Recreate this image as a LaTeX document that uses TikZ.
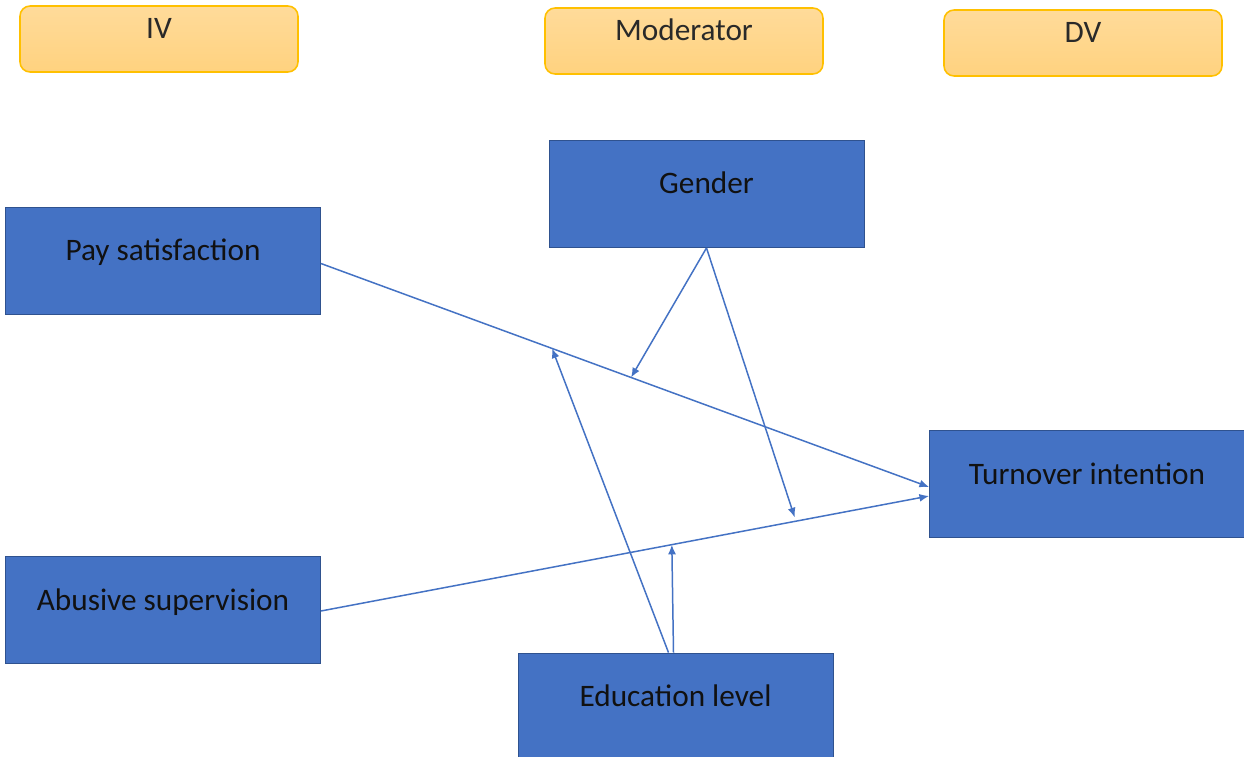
\documentclass[tikz,border=0pt]{standalone}
\usepackage{fontspec}
\setmainfont{Carlito}
\usepackage{tikz}
\usetikzlibrary{arrows.meta, calc}
\definecolor{BoxBlue}{HTML}{4472C4}
\definecolor{EdgeBlue}{HTML}{2F528F}
\definecolor{HeadGold}{HTML}{FFC000}
\definecolor{HeadTop}{HTML}{FFDB9A}
\definecolor{HeadBottom}{HTML}{FFD27F}
\definecolor{InkDark}{HTML}{111111}

\begin{document}
\begin{tikzpicture}[x=0.02cm, y=-0.02cm,
    varbox/.style={draw=EdgeBlue, line width=0.5pt, fill=BoxBlue, text=InkDark, minimum width=6.3cm, minimum height=2.14cm, inner sep=0pt, text height=0.7em, text depth=0.7em, font=\fontsize{17.8}{21}\selectfont},
    headbox/.style={draw=HeadGold, line width=0.9pt, top color=HeadTop, bottom color=HeadBottom, rounded corners=0.2cm, text=InkDark!90, minimum width=5.56cm, minimum height=1.32cm, inner sep=0pt, text height=0.7em, text depth=0.7em, font=\fontsize{17.8}{21}\selectfont},
    link/.style={draw=BoxBlue, line width=0.85pt, -{Latex[length=5.5pt, width=4.5pt]}}]
            \clip (0,0) rectangle (1244,757);
            \fill[white] (0,0) rectangle (1244,757);
            % column headers
            \node[headbox] (iv) at (159,39) {IV};
            \node[headbox] (mod) at (684,41) {Moderator};
            \node[headbox] (dv) at (1083,43) {DV};
            % variables
            \node[varbox] (gender) at (706.5,194) {Gender};
            \node[varbox] (pay) at (163,260.5) {Pay satisfaction};
            \node[varbox] (turn) at (1087,484) {Turnover intention};
            \node[varbox] (abuse) at (163,610) {Abusive supervision};
            \node[varbox] (edu) at (675.5,706.5) {Education level};
            % main paths
            \coordinate (out1) at ($(pay.east)+(0,3)$);
            \coordinate (out2) at ($(abuse.east)+(0,1)$);
            \coordinate (in1) at ($(turn.west)+(0,3)$);
            \coordinate (in2) at ($(turn.west)+(0,12)$);
            \draw[link] (out1) -- (in1);
            \draw[link] (out2) -- (in2);
            % moderation
            \coordinate (g1) at ($(out1)!0.51!(in1)$);
            \coordinate (g2) at ($(out2)!0.779!(in2)+(0,-4)$);
            \coordinate (e1) at ($(out1)!0.38!(in1)$);
            \coordinate (e2) at ($(out2)!0.577!(in2)$);
            \coordinate (src1) at ($(edu.north)+(-7,0)$);
            \coordinate (src2) at ($(edu.north)+(-2,0)$);
            \draw[link] (gender.south) -- (g1);
            \draw[link] (gender.south) -- (g2);
            \draw[link] (src1) -- (e1);
            \draw[link] (src2) -- (e2);
        \end{tikzpicture}
\end{document}
